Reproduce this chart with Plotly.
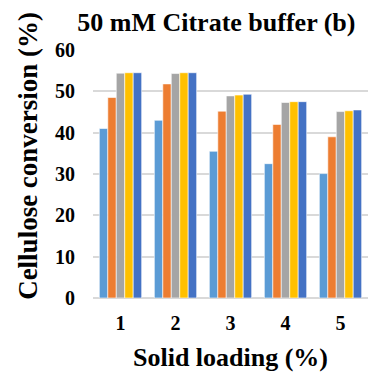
import plotly.graph_objects as go

# Solid loading levels (%) on the x axis
loadings = ["1", "2", "3", "4", "5"]

# Cellulose conversion (%) for each of the five series
series_a = [41.0, 43.0, 35.5, 32.5, 30.1]
series_b = [48.5, 51.8, 45.2, 42.0, 39.0]
series_c = [54.4, 54.3, 48.9, 47.3, 45.1]
series_d = [54.5, 54.5, 49.1, 47.5, 45.3]
series_e = [54.5, 54.5, 49.3, 47.5, 45.5]

series = [series_a, series_b, series_c, series_d, series_e]
colors = ["#5B9BD5", "#ED7D31", "#A5A5A5", "#FFC000", "#4472C4"]

FONT = "Liberation Serif"

fig = go.Figure()
for vals, col in zip(series, colors):
    fig.add_trace(go.Bar(
        x=loadings, y=vals,
        marker=dict(color=col, line=dict(width=0.6, color="white")),
        showlegend=False,
    ))

fig.update_layout(
    width=368, height=374,
    margin=dict(l=93, r=0, t=50, b=76),
    paper_bgcolor="white", plot_bgcolor="white",
    barmode="group", bargap=0.23, bargroupgap=0,
    font=dict(family=FONT, color="black"),
    title=dict(
        text="<b>50 mM Citrate buffer (b)</b>",
        font=dict(family=FONT, size=26, color="black"),
        x=0.588, xref="container", xanchor="center",
        y=1 - 22 / 374, yref="container", yanchor="middle",
    ),
    xaxis=dict(
        title=dict(text="<b>Solid loading (%)</b>",
                   font=dict(family=FONT, size=26, color="black"), standoff=14),
        tickfont=dict(family=FONT, size=20, color="black"),
        tickprefix="<b>", ticksuffix="</b>",
        showgrid=False, showline=False, zeroline=False,
        ticklabelstandoff=11,
    ),
    yaxis=dict(
        range=[0, 60], dtick=10,
        tickfont=dict(family=FONT, size=20, color="black"),
        tickprefix="<b>", ticksuffix="</b>",
        showgrid=True, gridcolor="#D9D9D9", gridwidth=1.5,
        zeroline=True, zerolinecolor="#D9D9D9", zerolinewidth=1.5,
        showline=False,
        ticklabelstandoff=17,
    ),
)

# Vertical y-axis caption, set slightly above the plot's mid-height
fig.add_annotation(
    text="<b>Cellulose conversion (%)</b>",
    font=dict(family=FONT, size=27, color="black"),
    textangle=-90, showarrow=False,
    xref="paper", yref="paper",
    x=(28 - 93) / 275, y=(298.3 - 156) / 248.3,
    xanchor="center", yanchor="middle",
)

fig.write_html("out.html")
